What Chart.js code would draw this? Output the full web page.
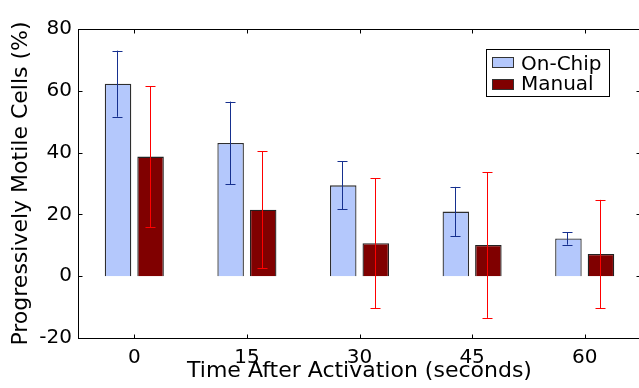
<!DOCTYPE html>
<html>
<head>
<meta charset="utf-8">
<script src="https://cdn.jsdelivr.net/npm/chart.js@4.4.0/dist/chart.umd.min.js"></script>
<style>
html, body { margin: 0; padding: 0; background: #fff; overflow: hidden; }
#wrap { position: relative; width: 641px; height: 388px; }
</style>
</head>
<body>
<div id="wrap"><canvas id="myChart"></canvas></div>
<script>
const categories = ['0', '15', '30', '45', '60'];
const onChip = [62.3, 43.1, 29.4, 20.9, 12.2];
const onChipErr = [10.7, 13.4, 7.8, 8.0, 2.0];
const manual = [38.7, 21.5, 10.7, 10.1, 7.2];
const manualErr = [22.8, 18.9, 21.0, 23.6, 17.5];
const yTicks = [-20, 0, 20, 40, 60, 80];

const FONT = "'DejaVu Sans', sans-serif";

// error bars drawn through the scales
const errorBars = {
    id: 'errorBars',
    afterDatasetsDraw(chart) {
        const ctx = chart.ctx;
        const yScale = chart.scales.y;
        chart.data.datasets.forEach((ds, i) => {
            const meta = chart.getDatasetMeta(i);
            meta.data.forEach((bar, j) => {
                const v = ds.data[j];
                const e = ds.errors[j];
                const x = Math.round(bar.x) - 0.5;
                const y1 = yScale.getPixelForValue(v + e);
                const y2 = yScale.getPixelForValue(v - e);
                ctx.save();
                ctx.strokeStyle = ds.errorColor;
                ctx.lineWidth = 1;
                ctx.beginPath();
                ctx.moveTo(x, y1);
                ctx.lineTo(x, y2);
                ctx.moveTo(x - 5, Math.round(y1) + 0.5);
                ctx.lineTo(x + 5, Math.round(y1) + 0.5);
                ctx.moveTo(x - 5, Math.round(y2) + 0.5);
                ctx.lineTo(x + 5, Math.round(y2) + 0.5);
                ctx.stroke();
                ctx.restore();
            });
        });
    }
};

// frame, inward ticks and boxed legend
const frame = {
    id: 'frame',
    afterDraw(chart) {
        const ctx = chart.ctx;
        const a = chart.chartArea;
        const xs = chart.scales.x;
        const ys = chart.scales.y;
        ctx.save();
        ctx.strokeStyle = '#000';
        ctx.lineWidth = 1;
        const L = Math.round(a.left) + 0.5, R = Math.round(a.right) - 0.5;
        const T = Math.round(a.top) + 0.5, B = Math.round(a.bottom) + 0.5;
        ctx.strokeRect(L, T, R - L, B - T);
        ctx.beginPath();
        yTicks.forEach(v => {
            const y = Math.round(ys.getPixelForValue(v)) + 0.5;
            ctx.moveTo(L, y); ctx.lineTo(L + 4, y);
            ctx.moveTo(R, y); ctx.lineTo(R - 4, y);
        });
        categories.forEach((c, i) => {
            const x = Math.round(xs.getPixelForValue(i)) + 0.5;
            ctx.moveTo(x, B); ctx.lineTo(x, B - 4);
            ctx.moveTo(x, T); ctx.lineTo(x, T + 4);
        });
        ctx.stroke();

        // legend
        const lx = 486.5, ly = 49.5, lw = 123, lh = 47;
        ctx.fillStyle = '#fff';
        ctx.fillRect(lx, ly, lw, lh);
        ctx.strokeStyle = '#000';
        ctx.strokeRect(lx, ly, lw, lh);
        ctx.font = '20px ' + FONT;
        ctx.textBaseline = 'alphabetic';
        chart.data.datasets.forEach((ds, i) => {
            const sy = 57.5 + i * 22;
            ctx.fillStyle = ds.backgroundColor;
            ctx.fillRect(492.5, sy, 21, 10);
            ctx.strokeStyle = '#333';
            ctx.strokeRect(492.5, sy, 21, 10);
            ctx.fillStyle = '#000';
            ctx.fillText(ds.label, 521, 70 + i * 19.5);
        });
        ctx.restore();
    }
};

const ctx1 = document.getElementById('myChart').getContext('2d');
const chartData1 = {
    labels: categories,
    datasets: [
        {
            label: 'On-Chip',
            data: onChip,
            errors: onChipErr,
            errorColor: '#16308f',
            backgroundColor: '#b4c8fc',
            borderColor: '#2e2e2e',
            borderWidth: 1.3
        },
        {
            label: 'Manual',
            data: manual,
            errors: manualErr,
            errorColor: '#ff0000',
            backgroundColor: '#800000',
            borderColor: '#222222',
            borderWidth: 1.3
        }
    ]
};
const config1 = {
    type: 'bar',
    data: chartData1,
    options: {
        responsive: true,
        maintainAspectRatio: false,
        animation: false,
        categoryPercentage: 0.578,
        barPercentage: 0.815,
        layout: { padding: { top: 29, right: 0, bottom: 0, left: 0 } },
        plugins: {
            legend: { display: false },
            tooltip: { enabled: false }
        },
        scales: {
            x: {
                grid: { display: false, drawTicks: false },
                border: { display: false },
                ticks: { color: '#000', font: { family: FONT, size: 20 }, padding: 8, maxRotation: 0 },
                title: {
                    display: true,
                    text: 'Time After Activation (seconds)',
                    color: '#000',
                    font: { family: FONT, size: 22, lineHeight: 1 },
                    padding: { top: 0, bottom: 6 }
                },
                afterFit(scale) { scale.height = 50; }
            },
            y: {
                min: -20,
                max: 80,
                grid: { display: false, drawTicks: false },
                border: { display: false },
                ticks: { color: '#000', font: { family: FONT, size: 20 }, padding: 6, stepSize: 20 },
                afterBuildTicks(scale) { scale.ticks = yTicks.map(v => ({ value: v })); },
                title: {
                    display: true,
                    text: 'Progressively Motile Cells (%)',
                    color: '#000',
                    font: { family: FONT, size: 22, lineHeight: 1 },
                    padding: { top: 10, bottom: 0 }
                },
                afterFit(scale) { scale.width = 78; }
            }
        }
    },
    plugins: [errorBars, frame]
};
const myChart = new Chart(ctx1, config1);
</script>
</body>
</html>
